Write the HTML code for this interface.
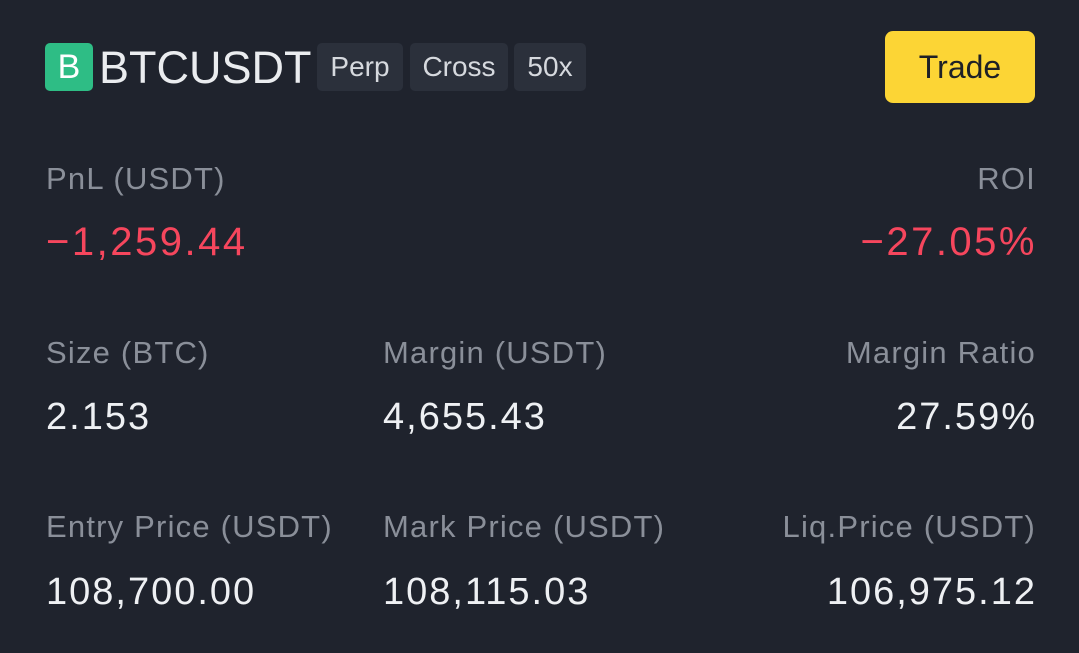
<!DOCTYPE html>
<html><head><meta charset="utf-8"><style>
html,body{margin:0;padding:0;}
body{width:1079px;height:653px;background:#1f232d;font-family:"Liberation Sans",sans-serif;position:relative;overflow:hidden;color:#eaecef;}
.a{position:absolute;white-space:nowrap;line-height:1;}
.lbl{font-size:31px;color:#8a8f99;letter-spacing:1.2px;}
.val{font-size:38px;color:#eef0f3;letter-spacing:2px;}
.red{color:#f6465d;font-size:40px;letter-spacing:2.5px;}
.tag{position:absolute;top:43px;height:48px;background:#2b303b;border-radius:5px;font-size:28px;color:#d6d9de;display:flex;align-items:center;justify-content:center;}
.r{text-align:right;}
</style></head><body>
<div style="position:absolute;left:45px;top:43px;width:48px;height:48px;background:#2ebd85;border-radius:5px;color:#fff;font-size:34px;display:flex;align-items:center;justify-content:center;">B</div>
<div class="a" style="left:99px;top:45px;font-size:45px;color:#eaecef;">BTCUSDT</div>
<div class="tag" style="left:317px;width:86px;">Perp</div>
<div class="tag" style="left:410px;width:98px;">Cross</div>
<div class="tag" style="left:514px;width:72px;">50x</div>
<div style="position:absolute;left:885px;top:31px;width:150px;height:72px;background:#fcd535;border-radius:8px;color:#1e2026;font-size:32px;display:flex;align-items:center;justify-content:center;">Trade</div>

<div class="a lbl" style="left:46px;top:163px;">PnL (USDT)</div>
<div class="a lbl r" style="right:43px;top:163px;">ROI</div>
<div class="a red" style="left:46px;top:222px;">−1,259.44</div>
<div class="a red r" style="right:42px;top:222px;">−27.05%</div>

<div class="a lbl" style="left:46px;top:337px;">Size (BTC)</div>
<div class="a lbl" style="left:383px;top:337px;">Margin (USDT)</div>
<div class="a lbl r" style="right:43px;top:337px;">Margin Ratio</div>
<div class="a val" style="left:46px;top:398px;">2.153</div>
<div class="a val" style="left:383px;top:398px;">4,655.43</div>
<div class="a val r" style="right:42px;top:398px;">27.59%</div>

<div class="a lbl" style="left:46px;top:511px;">Entry Price (USDT)</div>
<div class="a lbl" style="left:383px;top:511px;">Mark Price (USDT)</div>
<div class="a lbl r" style="right:43px;top:511px;">Liq.Price (USDT)</div>
<div class="a val" style="left:46px;top:573px;">108,700.00</div>
<div class="a val" style="left:383px;top:573px;">108,115.03</div>
<div class="a val r" style="right:42px;top:573px;">106,975.12</div>
</body></html>
